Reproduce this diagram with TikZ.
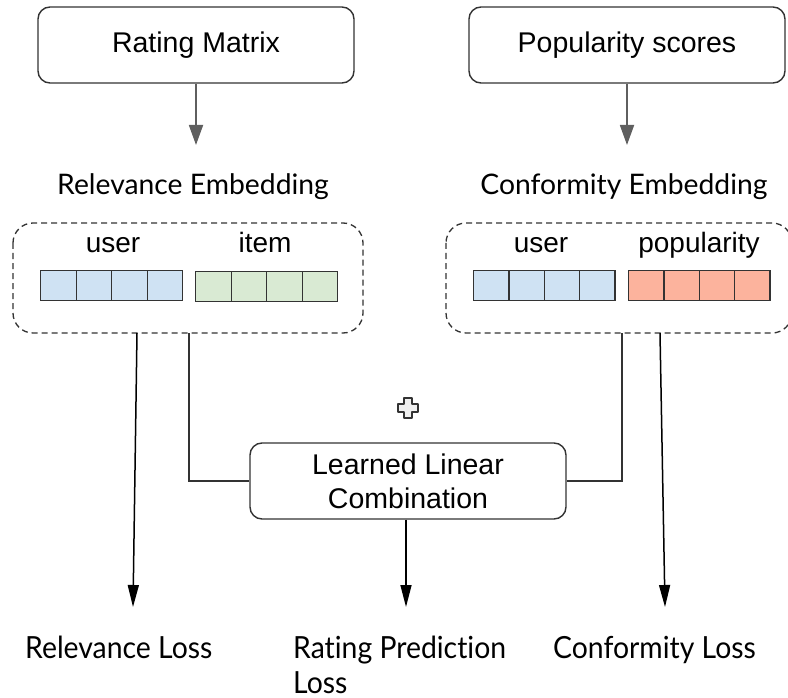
\documentclass[tikz,border=0pt]{standalone}
\usepackage{fontspec}
\setmainfont{Liberation Sans}
\newfontfamily\latofont{Lato}
\newfontfamily\latonarrow[FakeStretch=0.93,Ligatures={NoCommon,NoRare}]{Lato}
\usetikzlibrary{arrows.meta}
\definecolor{userblue}{HTML}{CFE2F3}
\definecolor{itemgreen}{HTML}{D9EAD3}
\definecolor{popsalmon}{HTML}{FCB39D}
\definecolor{linedark}{HTML}{333333}
\definecolor{linegray}{HTML}{5F5F5F}
\begin{document}
\begin{tikzpicture}[x=1pt,y=-1pt,
  roundbox/.style={draw=linedark,line width=1.4pt,rounded corners=12pt,fill=white,
    minimum width=316pt,minimum height=76pt,font=\fontsize{28.5}{34}\selectfont,align=center,inner sep=0pt},
  groupbox/.style={draw=linedark,line width=1.3pt,dashed,dash pattern=on 6pt off 4pt,rounded corners=20pt},
  title/.style={font=\latofont\fontsize{28.3}{32}\selectfont,inner sep=0pt,anchor=base},
  tag/.style={font=\fontsize{28}{32}\selectfont,inner sep=0pt,anchor=base},
  losslabel/.style={font=\latonarrow\fontsize{30.5}{36}\selectfont,inner sep=0pt,anchor=base west},
  cell/.style={draw=linedark,line width=1.3pt,minimum width=35.5pt,minimum height=30pt,inner sep=0pt},
  grayarrow/.style={draw=linegray,line width=1.8pt,-{Triangle[length=20pt,width=14pt]}},
  darkarrow/.style={draw=black,line width=1.5pt,-{Triangle[length=22pt,width=11pt]}},
  joinline/.style={draw=linedark,line width=1.5pt}]
\useasboundingbox (0,0) rectangle (788,698);
\clip (0,0) rectangle (788,698);

% input boxes
\node[roundbox] (rating) at (196,45) {Rating Matrix};
\node[roundbox] (pop) at (627,45) {Popularity scores};

% embedding titles
\node[title] (relemb) at (193,195) {Relevance Embedding};
\node[title] (confemb) at (624,195) {Conformity Embedding};
\coordinate (relin) at (196,145);
\coordinate (confin) at (627,145);
\draw[grayarrow] (rating.south) -- (relin);
\draw[grayarrow] (pop.south) -- (confin);

% dashed groups
\draw[groupbox] (13,223) rectangle (363,333);
\draw[groupbox] (446,223) rectangle (792,333);
\coordinate (relbl) at (137,333);
\coordinate (relbr) at (189,333);
\coordinate (confbl) at (622,333);
\coordinate (confbr) at (660,333);

% vector labels
\node[tag] (u1) at (113,253) {user};
\node[tag] (it) at (265,253) {item};
\node[tag] (u2) at (541,253) {user};
\node[tag] (pp) at (699,253) {popularity};

% vector cells
\foreach \i in {0,1,2,3}{
  \node[cell,fill=userblue,anchor=north west] (ua\i) at (40+35.5*\i,270) {};
  \node[cell,fill=itemgreen,anchor=north west] (ib\i) at (195+35.5*\i,271) {};
  \node[cell,fill=userblue,anchor=north west] (uc\i) at (473+35.25*\i,270) {};
  \node[cell,fill=popsalmon,anchor=north west] (pd\i) at (628+35.25*\i,270) {};
}

% plus sign
\filldraw[draw=linedark,fill=gray!12,line width=1.3pt,line join=round]
  (404,398) -- (412,398) -- (412,404) -- (418,404) -- (418,412) -- (412,412)
  -- (412,418) -- (404,418) -- (404,412) -- (398,412) -- (398,404) -- (404,404) -- cycle;

% combination box
\node[roundbox] (comb) at (408,481) {Learned Linear\\Combination};
\draw[joinline] (relbr) |- (comb.west);
\draw[joinline] (confbl) |- (comb.east);

% losses
\node[losslabel] (relloss) at (25,658) {Relevance Loss};
\node[losslabel] (rploss) at (293,658) {Rating Predic{}tion};
\node[losslabel] (rploss2) at (293,693) {Loss};
\node[losslabel] (confloss) at (553,658) {Conformity Loss};
\coordinate (rellossin) at (133,607);
\coordinate (rplossin) at (406,607);
\coordinate (conflossin) at (665,607);
\draw[darkarrow] (relbl) -- (rellossin);
\draw[darkarrow] (comb.south -| rplossin) -- (rplossin);
\draw[darkarrow] (confbr) -- (conflossin);
\end{tikzpicture}
\end{document}
